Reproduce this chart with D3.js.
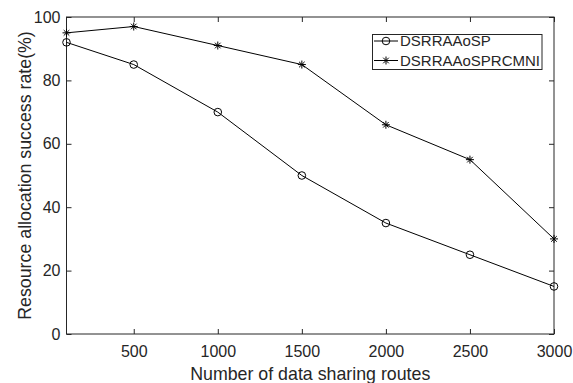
<!DOCTYPE html>
<html><head><meta charset="utf-8">
<script src="https://cdn.jsdelivr.net/npm/d3@7"></script>
<style>body{margin:0;background:#fff}svg{display:block}text{font-family:"Liberation Sans",Arial,sans-serif;fill:#262626}</style>
</head><body>
<svg id="c" width="573" height="383"></svg>
<script>
const xValues = [100, 500, 1000, 1500, 2000, 2500, 3000];
const seriesSP = [92, 85, 70, 50, 35, 25, 15];
const seriesRCMNI = [95, 97, 91, 85, 66, 55, 30];
const seriesNames = ["DSRRAAoSP", "DSRRAAoSPRCMNI"];
const xTicks = [500, 1000, 1500, 2000, 2500, 3000];
const yTicks = [0, 20, 40, 60, 80, 100];

const svg = d3.select("#c");
const L = 66.5, R = 554, T = 17, B = 334;
const x = d3.scaleLinear().domain([100, 3000]).range([L, R]);
const y = d3.scaleLinear().domain([0, 100]).range([B, T]);

const ax = svg.append("g");
ax.append("rect").attr("x", L).attr("y", T).attr("width", R - L).attr("height", B - T)
  .attr("fill", "none").attr("stroke", "#262626").attr("stroke-width", 1);

const tk = 5;
const xa = svg.append("g").attr("transform", `translate(0,${B})`)
  .call(d3.axisBottom(x).tickValues(xTicks).tickSize(-tk).tickPadding(12).tickFormat(d3.format("d")));
const xt = svg.append("g").attr("transform", `translate(0,${T})`)
  .call(d3.axisTop(x).tickValues(xTicks).tickSize(-tk).tickFormat(""));
const ya = svg.append("g").attr("transform", `translate(${L},0)`)
  .call(d3.axisLeft(y).tickValues(yTicks).tickSize(-tk).tickPadding(6));
const yr = svg.append("g").attr("transform", `translate(${R},0)`)
  .call(d3.axisRight(y).tickValues(yTicks).tickSize(-tk).tickFormat(""));
[xa, xt, ya, yr].forEach(g => {
  g.select(".domain").remove();
  g.selectAll(".tick line").attr("stroke", "#262626");
  g.selectAll(".tick text").attr("font-size", 16).attr("fill", "#262626")
    .style("font-family", '"Liberation Sans",Arial,sans-serif');
});

const line = d3.line().x((d, i) => x(xValues[i])).y(d => y(d));
svg.append("path").datum(seriesSP).attr("d", line).attr("fill", "none").attr("stroke", "#000").attr("stroke-width", 1);
svg.append("path").datum(seriesRCMNI).attr("d", line).attr("fill", "none").attr("stroke", "#000").attr("stroke-width", 1);

function circleMarker(g, cx, cy) {
  g.append("circle").attr("cx", cx).attr("cy", cy).attr("r", 3.8).attr("fill", "none").attr("stroke", "#000").attr("stroke-width", 1);
}
function starMarker(g, cx, cy) {
  const s = 4;
  const p = `M${cx - s},${cy}L${cx + s},${cy}M${cx},${cy - s}L${cx},${cy + s}` +
    `M${cx - s * 0.7},${cy - s * 0.7}L${cx + s * 0.7},${cy + s * 0.7}M${cx - s * 0.7},${cy + s * 0.7}L${cx + s * 0.7},${cy - s * 0.7}`;
  g.append("path").attr("d", p).attr("stroke", "#000").attr("stroke-width", 1).attr("fill", "none");
}
const mk = svg.append("g");
seriesSP.forEach((d, i) => circleMarker(mk, x(xValues[i]), y(d)));
seriesRCMNI.forEach((d, i) => starMarker(mk, x(xValues[i]), y(d)));

const lg = svg.append("g");
lg.append("rect").attr("x", 372.5).attr("y", 34.5).attr("width", 169.5).attr("height", 35)
  .attr("fill", "#fff").attr("stroke", "#262626").attr("stroke-width", 1);
const rows = [41, 60.5];
seriesNames.forEach((n, i) => {
  const yy = rows[i];
  lg.append("line").attr("x1", 374).attr("x2", 398).attr("y1", yy).attr("y2", yy).attr("stroke", "#000");
  if (i === 0) circleMarker(lg, 386, yy); else starMarker(lg, 386, yy);
  lg.append("text").attr("x", 400).attr("y", yy).attr("dy", "0.35em").attr("font-size", 15).text(n);
});

svg.append("text").attr("x", (L + R) / 2).attr("y", 380).attr("text-anchor", "middle").attr("font-size", 17.8)
  .text("Number of data sharing routes");
svg.append("text").attr("transform", `translate(31,${(T + B) / 2}) rotate(-90)`).attr("text-anchor", "middle").attr("font-size", 17.8)
  .text("Resource allocation success rate(%)");
</script>
</body></html>
